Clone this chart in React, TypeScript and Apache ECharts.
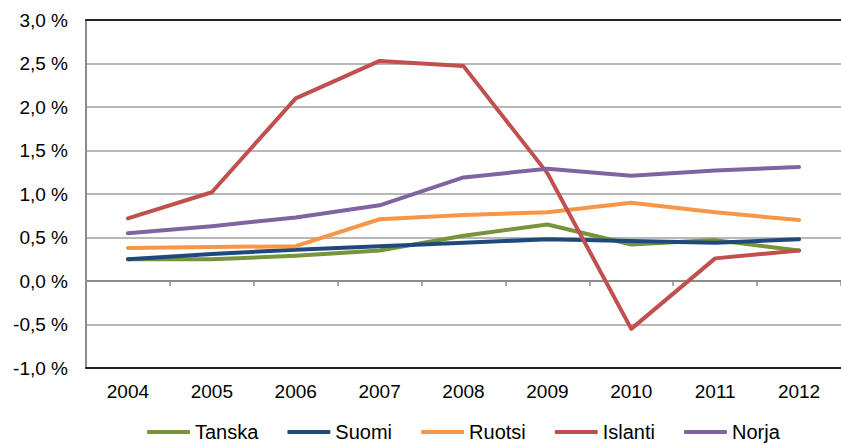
import React, { useEffect, useRef } from "react";
import * as echarts from "echarts";

const years = ["2004", "2005", "2006", "2007", "2008", "2009", "2010", "2011", "2012"];
const tanska = [0.25, 0.25, 0.29, 0.35, 0.52, 0.65, 0.42, 0.47, 0.35];
const suomi = [0.25, 0.31, 0.36, 0.4, 0.44, 0.48, 0.46, 0.44, 0.48];
const ruotsi = [0.38, 0.39, 0.4, 0.71, 0.76, 0.79, 0.9, 0.79, 0.7];
const islanti = [0.72, 1.02, 2.1, 2.53, 2.47, 1.24, -0.55, 0.26, 0.35];
const norja = [0.55, 0.63, 0.73, 0.87, 1.19, 1.29, 1.21, 1.27, 1.31];

const seriesNames = ["Tanska", "Suomi", "Ruotsi", "Islanti", "Norja"];
const seriesData = [tanska, suomi, ruotsi, islanti, norja];
const seriesColors = ["#77933C", "#1F497D", "#F79646", "#C0504D", "#8064A2"];

const yMin = -1;
const yMax = 3;
const yStep = 0.5;

const FONT = 'Arial, "Liberation Sans", sans-serif';

export default function App() {
  const ref = useRef<HTMLDivElement>(null);

  useEffect(() => {
    if (!ref.current) return;
    const chart = echarts.init(ref.current, undefined, { renderer: "svg" });
    const option: any = {
      animation: false,
      backgroundColor: "#ffffff",
      textStyle: { fontFamily: FONT },
      grid: { left: 86, top: 20, width: 765, height: 348, containLabel: false },
      legend: {
        data: seriesNames,
        left: 147,
        top: 422,
        padding: 0,
        itemGap: 29,
        itemWidth: 43,
        itemHeight: 4,
        icon: "roundRect",
        textStyle: { fontFamily: FONT, fontSize: 20, lineHeight: 20, color: "#000" },
      },
      xAxis: [
        {
          type: "category",
          data: years,
          position: "bottom",
          boundaryGap: true,
          axisLine: { show: true, onZero: false, lineStyle: { color: "#222", width: 2 } },
          axisTick: { show: false },
          axisLabel: { color: "#000", fontSize: 19, fontFamily: FONT, margin: 14, interval: 0 },
          splitLine: { show: false },
        },
        {
          type: "category",
          data: years,
          position: "top",
          boundaryGap: true,
          axisLine: { show: true, onZero: false, lineStyle: { color: "#222", width: 2 } },
          axisTick: { show: false },
          axisLabel: { show: false },
          splitLine: { show: false },
        },
        {
          type: "category",
          data: years,
          position: "bottom",
          boundaryGap: true,
          axisLine: { show: true, onZero: true, lineStyle: { color: "#8c8c8c", width: 2 } },
          axisTick: { show: true, interval: 0, length: 5, lineStyle: { color: "#8c8c8c", width: 1.5 } },
          axisLabel: { show: false },
          splitLine: { show: false },
        },
      ],
      yAxis: {
        type: "value",
        min: yMin,
        max: yMax,
        interval: yStep,
        axisLine: { show: true, lineStyle: { color: "#8c8c8c", width: 2 } },
        axisTick: { show: false },
        axisLabel: {
          color: "#000",
          fontSize: 19,
          fontFamily: FONT,
          margin: 18,
          formatter: (v: number) => v.toFixed(1).replace(".", ",") + " %",
        },
        splitLine: { show: true, lineStyle: { color: "#a0a0a0", width: 1.5 } },
      },
      series: seriesNames.map((name, i) => ({
        name,
        type: "line",
        xAxisIndex: 0,
        data: seriesData[i],
        symbol: "none",
        smooth: false,
        color: seriesColors[i],
        lineStyle: { color: seriesColors[i], width: 4, cap: "round", join: "round" },
      })),
    };
    chart.setOption(option);
    return () => chart.dispose();
  }, []);

  return (
    <div
      ref={ref}
      style={{ position: "absolute", left: 0, top: 0, width: 841, height: 445, background: "#fff" }}
    />
  );
}
